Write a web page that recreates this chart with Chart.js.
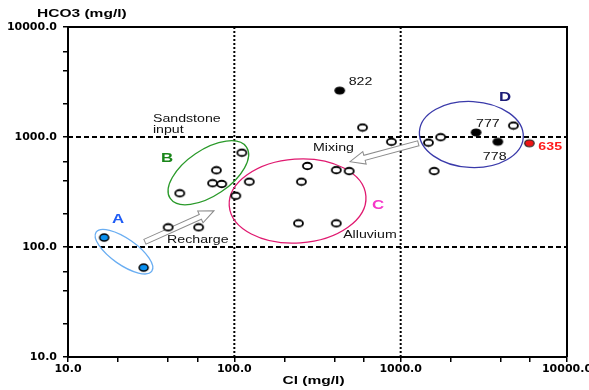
<!DOCTYPE html>
<html>
<head>
<meta charset="utf-8">
<script src="https://cdn.jsdelivr.net/npm/chart.js@4/dist/chart.umd.min.js"></script>
<style>
  html, body { margin: 0; padding: 0; background: #fff; }
  canvas { display: block; }
</style>
</head>
<body>
<canvas id="chart" width="589" height="390"></canvas>
<script>
// Cl vs HCO3 concentrations (mg/l)
const sampleCl   = [40, 61, 47, 78, 74, 84, 111, 102, 123, 275, 410, 490, 253, 243, 410, 590, 880, 1470, 1740, 4760, 1590];
const sampleHCO3 = [151, 151, 308, 498, 380, 374, 720, 292, 392, 545, 500, 490, 392, 164, 164, 1220, 905, 888, 995, 1270, 490];

const rechargeCl   = [16.5, 28.5];
const rechargeHCO3 = [122, 65];

const wellIds  = ['822', '777', '778'];
const wellCl   = [430, 2840, 3840];
const wellHCO3 = [2640, 1100, 905];

const salineIds  = ['635'];
const salineCl   = [5940];
const salineHCO3 = [877];

const axisTicks  = [10, 20, 40, 60, 100, 200, 400, 600, 1000, 2000, 4000, 6000, 10000];
const majorTicks = [10, 100, 1000, 10000];
const guideLines = [100, 1000];

// group outlines: centre in mg/l, radii in px, rotation in degrees
const groups = [
  { name: 'A', cl: 21.7, hco3: 90.6, rx: 34, ry: 13, rot: 35, color: '#6aaef2', labelCl: 20.0, labelHCO3: 176, labelColor: '#1f5cf5' },
  { name: 'B', cl: 69.8, hco3: 473, rx: 46, ry: 23, rot: -34, color: '#2a9a2a', labelCl: 39.4, labelHCO3: 631, labelColor: '#1a861a' },
  { name: 'C', cl: 240, hco3: 262, rx: 68.5, ry: 42, rot: -4, color: '#e01a70', labelCl: 731, labelHCO3: 236, labelColor: '#f536c8' },
  { name: 'D', cl: 2660, hco3: 1054, rx: 52, ry: 33, rot: 3, color: '#3a3aaa', labelCl: 4246, labelHCO3: 2265, labelColor: '#1c1c78' }
];

// process arrows (tail -> tip, mg/l)
const arrows = [
  { from: [29.0, 111.7], to: [75.5, 213.8] },
  { from: [1277, 877], to: [496, 596] }
];

// free text notes (left-anchored, mg/l)
const notes = [
  { text: 'Sandstone', cl: 32.4, hco3: 1442 },
  { text: 'input', cl: 32.4, hco3: 1158 },
  { text: 'Recharge', cl: 39.4, hco3: 114.5 },
  { text: 'Alluvium', cl: 451, hco3: 128.5 },
  { text: 'Mixing', cl: 297, hco3: 794 }
];

function marker(fill, stroke, w, h, lw) {
  const c = document.createElement('canvas');
  c.width = w + 4; c.height = h + 4;
  const g = c.getContext('2d');
  g.beginPath();
  g.ellipse(c.width / 2, c.height / 2, w / 2, h / 2, 0, 0, Math.PI * 2);
  g.fillStyle = fill; g.fill();
  g.lineWidth = lw; g.strokeStyle = stroke; g.stroke();
  return c;
}

const openMark  = marker('#ffffff', '#000000', 9, 6.5, 1.8);
const blueMark  = marker('#0a90f0', '#000000', 9, 7, 1.5);
const blackMark = marker('#000000', '#000000', 9.5, 7, 1.2);
const redMark   = marker('#f01414', '#202020', 9.5, 7, 1.2);

const toPts = (xs, ys) => xs.map((v, i) => ({ x: v, y: ys[i] }));

function stretchedText(ctx, s, x, y, font, color, align) {
  ctx.save();
  ctx.translate(x, y);
  ctx.scale(1.35, 1);
  ctx.font = font;
  ctx.fillStyle = color;
  ctx.textAlign = align || 'left';
  ctx.textBaseline = 'middle';
  ctx.fillText(s, 0, 0);
  ctx.restore();
}

const overlay = {
  id: 'overlay',
  beforeDatasetsDraw(chart) {
    const { ctx, chartArea: a, scales: { x, y } } = chart;
    ctx.save();
    ctx.strokeStyle = '#000';
    ctx.lineWidth = 2;
    // horizontal guides
    ctx.setLineDash([5, 3]);
    guideLines.forEach(v => {
      const py = y.getPixelForValue(v);
      ctx.beginPath(); ctx.moveTo(a.left, py); ctx.lineTo(a.right, py); ctx.stroke();
    });
    // vertical guides
    ctx.setLineDash([2, 2]);
    guideLines.forEach(v => {
      const px = x.getPixelForValue(v);
      ctx.beginPath(); ctx.moveTo(px, a.top); ctx.lineTo(px, a.bottom); ctx.stroke();
    });
    ctx.setLineDash([]);

    // group outlines
    groups.forEach(gp => {
      ctx.beginPath();
      ctx.ellipse(x.getPixelForValue(gp.cl), y.getPixelForValue(gp.hco3), gp.rx, gp.ry,
                  gp.rot * Math.PI / 180, 0, Math.PI * 2);
      ctx.lineWidth = 1.3;
      ctx.strokeStyle = gp.color;
      ctx.stroke();
    });

    // hollow arrows
    arrows.forEach(ar => {
      const x0 = x.getPixelForValue(ar.from[0]), y0 = y.getPixelForValue(ar.from[1]);
      const x1 = x.getPixelForValue(ar.to[0]),   y1 = y.getPixelForValue(ar.to[1]);
      const len = Math.hypot(x1 - x0, y1 - y0);
      const ang = Math.atan2(y1 - y0, x1 - x0);
      const sw = 2.6, hw = 6.5, hl = 15;
      ctx.save();
      ctx.translate(x0, y0);
      ctx.rotate(ang);
      ctx.beginPath();
      ctx.moveTo(0, -sw);
      ctx.lineTo(len - hl, -sw);
      ctx.lineTo(len - hl, -hw);
      ctx.lineTo(len, 0);
      ctx.lineTo(len - hl, hw);
      ctx.lineTo(len - hl, sw);
      ctx.lineTo(0, sw);
      ctx.closePath();
      ctx.fillStyle = '#ffffff';
      ctx.fill();
      ctx.lineWidth = 1;
      ctx.strokeStyle = '#8c8c8c';
      ctx.stroke();
      ctx.restore();
    });
    ctx.restore();
  },
  afterDraw(chart) {
    const { ctx, chartArea: a, scales: { x, y } } = chart;
    ctx.save();
    // top and right frame
    ctx.strokeStyle = '#000';
    ctx.lineWidth = 2;
    ctx.beginPath();
    ctx.moveTo(a.left, a.top); ctx.lineTo(a.right, a.top); ctx.lineTo(a.right, a.bottom);
    ctx.stroke();

    // axis titles
    stretchedText(ctx, 'HCO3 (mg/l)', a.left - 31, a.top - 13, 'bold 11.5px "Liberation Sans", Arial, sans-serif', '#000');
    stretchedText(ctx, 'Cl (mg/l)', (a.left + a.right) / 2 - 4, a.bottom + 24, 'bold 11.5px "Liberation Sans", Arial, sans-serif', '#000', 'center');

    // notes
    notes.forEach(n => {
      stretchedText(ctx, n.text, x.getPixelForValue(n.cl), y.getPixelForValue(n.hco3),
                    '10.5px "Liberation Sans", Arial, sans-serif', '#111');
    });

    // group letters
    groups.forEach(gp => {
      stretchedText(ctx, gp.name, x.getPixelForValue(gp.labelCl), y.getPixelForValue(gp.labelHCO3),
                    'bold 12.5px "Liberation Sans", Arial, sans-serif', gp.labelColor, 'center');
    });

    // well ids beside their points
    const wellOffsets = [[9, -9], [0, -8], [-15, 15]];
    chart.getDatasetMeta(2).data.forEach((pt, i) => {
      stretchedText(ctx, wellIds[i], pt.x + wellOffsets[i][0], pt.y + wellOffsets[i][1],
                    '10.5px "Liberation Sans", Arial, sans-serif', '#111');
    });
    chart.getDatasetMeta(3).data.forEach((pt, i) => {
      stretchedText(ctx, salineIds[i], pt.x + 9, pt.y + 4,
                    'bold 10.5px "Liberation Sans", Arial, sans-serif', '#ff1a1a');
    });
    ctx.restore();
  }
};

const tickFont = { family: '"DejaVu Sans", sans-serif', weight: 'bold', size: 11 };

function logAxis(extra) {
  return Object.assign({
    type: 'logarithmic',
    min: 10,
    max: 10000,
    afterBuildTicks: s => { s.ticks = axisTicks.map(v => ({ value: v, major: majorTicks.includes(v) })); },
    grid: { drawOnChartArea: false, drawTicks: true, tickLength: 5, color: '#000', lineWidth: 1.5 },
    border: { display: true, color: '#000', width: 2 }
  }, extra);
}

new Chart(document.getElementById('chart'), {
  type: 'scatter',
  data: {
    datasets: [
      { label: 'Samples', data: toPts(sampleCl, sampleHCO3), pointStyle: openMark },
      { label: 'Recharge', data: toPts(rechargeCl, rechargeHCO3), pointStyle: blueMark },
      { label: 'Wells', data: toPts(wellCl, wellHCO3), pointStyle: blackMark },
      { label: 'Saline', data: toPts(salineCl, salineHCO3), pointStyle: redMark }
    ]
  },
  options: {
    responsive: false,
    animation: false,
    events: [],
    layout: { padding: { top: 27, right: 22, bottom: 0, left: 0 } },
    plugins: { legend: { display: false }, tooltip: { enabled: false } },
    scales: {
      x: logAxis({
        ticks: { autoSkip: false, maxRotation: 0, color: '#000', font: tickFont, padding: 1,
                 callback: v => majorTicks.includes(v) ? v.toFixed(1) : '' },
        afterFit: s => { s.height = 33; s.paddingLeft = 0; s.paddingRight = 0; }
      }),
      y: logAxis({
        ticks: { autoSkip: false, color: '#000', font: tickFont, padding: 6,
                 callback: v => majorTicks.includes(v) ? v.toFixed(1) : '' },
        afterFit: s => { s.width = 68; s.paddingTop = 0; s.paddingBottom = 0; }
      })
    }
  },
  plugins: [overlay]
});
</script>
</body>
</html>
